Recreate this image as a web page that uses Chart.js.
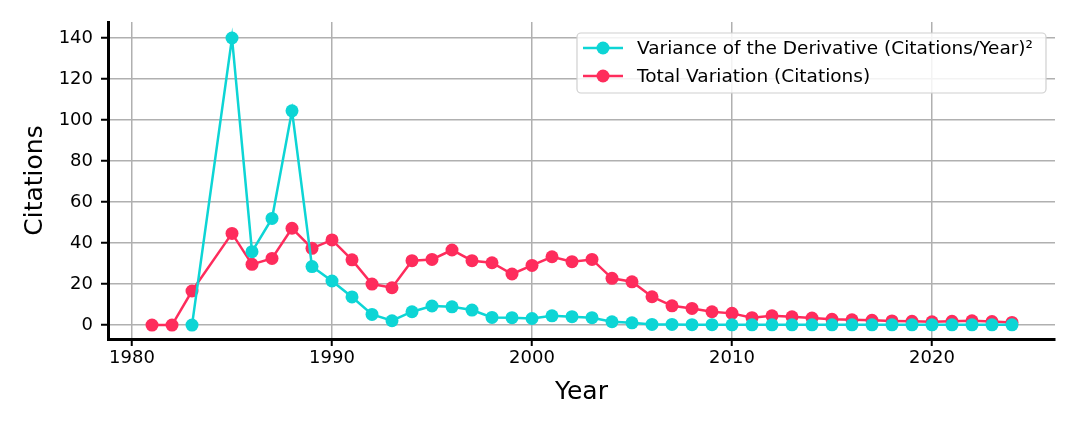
<!DOCTYPE html>
<html>
<head>
<meta charset="utf-8">
<script src="https://cdn.jsdelivr.net/npm/chart.js@4/dist/chart.umd.min.js"></script>
<style>
  html, body { margin: 0; padding: 0; background: #fff; }
  #wrap { width: 1080px; height: 432px; }
</style>
</head>
<body>
<div id="wrap"><canvas id="chart" width="1080" height="432"></canvas></div>
<script>
const years = [1981,1982,1983,1984,1985,1986,1987,1988,1989,1990,1991,1992,1993,1994,1995,1996,1997,1998,1999,2000,
               2001,2002,2003,2004,2005,2006,2007,2008,2009,2010,2011,2012,2013,2014,2015,2016,2017,2018,2019,2020,
               2021,2022,2023,2024];

// variance of the derivative (null = no point that year)
const varianceDeriv = [null,null,0,null,140,35.8,52,104.5,28.5,21.5,13.7,5.2,2.1,6.5,9.3,8.9,7.3,3.7,3.6,3.2,
                       4.5,4.1,3.6,1.6,1.1,0.3,0.3,0.2,0.2,0.1,0.1,0.1,0.1,0.1,0.1,0.1,0.1,0.1,0.1,0.1,
                       0.1,0.1,0.1,0.1];

const totalVariation = [0,0,16.6,null,44.7,29.6,32.5,47.2,37.4,41.5,31.8,20,18.2,31.4,32,36.6,31.4,30.4,24.9,29.1,
                        33.3,30.9,32,22.8,21.1,13.8,9.4,8.1,6.5,5.7,3.6,4.5,4.0,3.4,2.8,2.6,2.3,2.0,1.8,1.6,
                        1.8,2.1,1.7,1.3];

const seriesLabels = ["Variance of the Derivative (Citations/Year)²", "Total Variation (Citations)"];
const xTicks = [1980,1990,2000,2010,2020];
const yTicks = [0,20,40,60,80,100,120,140];

const tealColor = "#0dd5d5";
const redColor = "#fe2c5c";
const fontFamily = "'DejaVu Sans', sans-serif";

function toPoints(values){
    return years.map((yr, i) => ({ x: yr, y: values[i] }));
}

// legend drawn in the upper right of the plot, matplotlib style
const boxLegend = {
    id: "boxLegend",
    afterDatasetsDraw(chart){
        const ctx = chart.ctx;
        const x0 = 577, y0 = 33, w = 469, h = 60;
        ctx.save();
        ctx.fillStyle = "rgba(255,255,255,0.85)";
        ctx.strokeStyle = "#d0d0d0";
        ctx.lineWidth = 1.2;
        ctx.beginPath();
        ctx.roundRect(x0, y0, w, h, 4);
        ctx.fill();
        ctx.stroke();

        ctx.font = "18.5px " + fontFamily;
        ctx.textBaseline = "middle";
        chart.data.datasets.forEach((ds, i) => {
            const cy = y0 + 15 + i * 28;
            ctx.strokeStyle = ds.borderColor;
            ctx.lineWidth = 2.5;
            ctx.beginPath();
            ctx.moveTo(x0 + 6, cy);
            ctx.lineTo(x0 + 46, cy);
            ctx.stroke();
            ctx.fillStyle = ds.borderColor;
            ctx.beginPath();
            ctx.arc(x0 + 26, cy, 6.5, 0, Math.PI * 2);
            ctx.fill();
            ctx.fillStyle = "#000";
            ctx.fillText(ds.label, x0 + 60, cy + 1);
        });
        ctx.restore();
    }
};

new Chart(document.getElementById("chart"), {
    type: "line",
    data: {
        datasets: [
            {
                label: seriesLabels[0],
                data: toPoints(varianceDeriv),
                borderColor: tealColor,
                backgroundColor: tealColor,
                borderWidth: 2.5,
                pointRadius: 6.5,
                pointBorderWidth: 0,
                spanGaps: true
            },
            {
                label: seriesLabels[1],
                data: toPoints(totalVariation),
                borderColor: redColor,
                backgroundColor: redColor,
                borderWidth: 2.5,
                pointRadius: 6.5,
                pointBorderWidth: 0,
                spanGaps: true
            }
        ]
    },
    options: {
        responsive: false,
        animation: false,
        layout: { padding: { top: 22, right: 25, left: 0, bottom: 0 } },
        plugins: {
            legend: { display: false },
            tooltip: { enabled: false }
        },
        scales: {
            x: {
                type: "linear",
                min: 1978.8,
                max: 2026.15,
                afterFit: scale => { scale.height = 93; },
                afterBuildTicks: scale => { scale.ticks = xTicks.map(v => ({ value: v })); },
                ticks: {
                    color: "#000",
                    font: { family: fontFamily, size: 18 },
                    padding: 2,
                    maxRotation: 0,
                    callback: v => String(v)
                },
                grid: {
                    color: "#b0b0b0",
                    lineWidth: 1.5,
                    tickColor: "#000",
                    tickWidth: 2,
                    tickLength: 7
                },
                border: { display: true, color: "#000", width: 3 },
                title: {
                    display: true,
                    text: "Year",
                    color: "#000",
                    font: { family: fontFamily, size: 25 },
                    padding: { top: 25, bottom: 25 }
                }
            },
            y: {
                type: "linear",
                min: -6.8,
                max: 147.8,
                afterFit: scale => { scale.width = 108; },
                afterBuildTicks: scale => { scale.ticks = yTicks.map(v => ({ value: v })); },
                ticks: {
                    color: "#000",
                    font: { family: fontFamily, size: 18 },
                    padding: 8
                },
                grid: {
                    color: "#b0b0b0",
                    lineWidth: 1.5,
                    tickColor: "#000",
                    tickWidth: 2,
                    tickLength: 7
                },
                border: { display: true, color: "#000", width: 3 },
                title: {
                    display: true,
                    text: "Citations",
                    color: "#000",
                    font: { family: fontFamily, size: 25 },
                    padding: { top: 20, bottom: 20 }
                }
            }
        }
    },
    plugins: [boxLegend]
});
</script>
</body>
</html>
